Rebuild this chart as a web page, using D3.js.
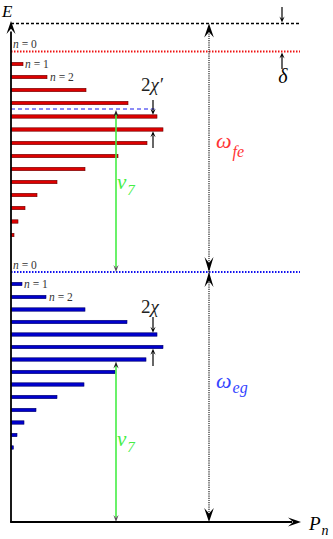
<!DOCTYPE html>
<html><head><meta charset="utf-8">
<script src="https://cdn.jsdelivr.net/npm/d3@7"></script>
<style>html,body{margin:0;padding:0;background:#fff;}svg{display:block;}</style>
</head><body>
<script>
// ---- data ----
const levelN = [0,1,2,3,4,5,6,7,8,9,10,11,12,13,14];
const redPn  = [0, 0.012, 0.036, 0.075, 0.117, 0.146, 0.152, 0.136, 0.107, 0.074, 0.046, 0.026, 0.014, 0.007, 0.003];
const bluePn = [0, 0.011, 0.035, 0.074, 0.116, 0.146, 0.152, 0.135, 0.104, 0.073, 0.046, 0.025, 0.013, 0.006, 0.0023];
const redE   = [470.5, 458, 445, 432, 419, 405.5, 392.5, 379, 366, 353, 340, 327, 314, 300.5, 287];
const blueE  = [250, 238, 225, 212.5, 200, 187.5, 175, 162.5, 150, 137.5, 125, 112, 99.5, 87, 74.5];
const topE = 498.5;       // upper dashed level
const dashedE = 413;      // blue dashed (ν7 above e n=0)
const groundE = 0;

const W = 333, H = 539;
const x = d3.scaleLinear().domain([0, 0.289]).range([11, 300]);
const y = d3.scaleLinear().domain([0, 500]).range([522, 22]);

const svg = d3.select("body").append("svg").attr("width", W).attr("height", H);
const serif = "'Liberation Serif','DejaVu Serif',serif";

function arrow(px, py, dir, L, Wd, color) {
  let p;
  if (dir === 'up')   p = `M${px},${py} L${px-Wd},${py+L} L${px},${py+L*0.6} L${px+Wd},${py+L} Z`;
  if (dir === 'down') p = `M${px},${py} L${px-Wd},${py-L} L${px},${py-L*0.6} L${px+Wd},${py-L} Z`;
  if (dir === 'right')p = `M${px},${py} L${px-L},${py-Wd} L${px-L*0.6},${py} L${px-L},${py+Wd} Z`;
  svg.append("path").attr("d", p).attr("fill", color || "#000");
}
function line(x1,y1,x2,y2,stroke,w,dash){
  const l = svg.append("line").attr("x1",x1).attr("y1",y1).attr("x2",x2).attr("y2",y2)
    .attr("stroke",stroke).attr("stroke-width",w);
  if (dash) l.attr("stroke-dasharray",dash);
  return l;
}

// ---- horizontal levels ----
line(x(0), y(topE), x(0.289), y(topE), "#000", 1.4, "3,2");
line(x(0), y(redE[0]), x(0.289), y(redE[0]), "#ee1111", 1.8, "1.5,1.5");
line(x(0), y(blueE[0]), x(0.289), y(blueE[0]), "#1111ee", 1.8, "1.5,1.5");
line(x(0), y(dashedE), x(0.1435), y(dashedE), "#1a1aee", 1.1, "4,3");

// ---- bars ----
const bh = 3.4;
svg.append("g").selectAll("rect").data(levelN.slice(1)).join("rect")
  .attr("x", x(0)).attr("y", n => y(redE[n]) - bh/2)
  .attr("width", n => x(redPn[n]) - x(0)).attr("height", bh)
  .attr("fill", "#dd0000").attr("stroke", "#6a0000").attr("stroke-width", 0.6);
svg.append("g").selectAll("rect").data(levelN.slice(1)).join("rect")
  .attr("x", x(0)).attr("y", n => y(blueE[n]) - bh/2)
  .attr("width", n => x(bluePn[n]) - x(0)).attr("height", bh)
  .attr("fill", "#0000cc").attr("stroke", "#000066").attr("stroke-width", 0.6);

// ---- n labels ----
function nLabel(px, py, k) {
  const t = svg.append("text").attr("x", px).attr("y", py).attr("font-family", serif)
    .attr("font-size", 11.5).attr("fill", "#333");
  t.append("tspan").attr("font-style","italic").text("n");
  t.append("tspan").text(" = " + k);
}
nLabel(13, y(redE[0]) - 3.5, levelN[0]);
nLabel(x(redPn[1]) + 2, y(redE[1]) + 3.5, levelN[1]);
nLabel(x(redPn[2]) + 3, y(redE[2]) + 3.5, levelN[2]);
nLabel(13, y(blueE[0]) - 3.5, levelN[0]);
nLabel(x(bluePn[1]) + 2, y(blueE[1]) + 3.5, levelN[1]);
nLabel(x(bluePn[2]) + 3, y(blueE[2]) + 3.5, levelN[2]);

// ---- vertical dotted ω line ----
const xw = 209;
line(xw, y(topE)+10, xw, y(groundE)-10, "#333", 1.3, "1.2,1");
arrow(xw, y(topE), 'up', 14, 4.8);
arrow(xw, y(blueE[0]), 'down', 15, 4.5);
arrow(xw, y(blueE[0]), 'up', 15, 4.5);
arrow(xw, y(groundE), 'down', 14, 4.8);

// ---- green ν7 arrows ----
const xg = 116;
line(xg, y(blueE[0]) - 5, xg, y(dashedE) + 5, "#44ee44", 1.6);
arrow(xg, y(dashedE) + 1, 'up', 7, 2.6, "#222");
arrow(xg, y(blueE[0]), 'down', 7, 2.6, "#555");
line(xg, y(groundE) - 5, xg, y(blueE[7]) + 5, "#44ee44", 1.6);
arrow(xg, y(blueE[7]) + 2, 'up', 7, 2.6, "#222");
arrow(xg, y(groundE), 'down', 7, 2.6, "#555");

function subLabel(px, py, main, sub, color, ms, ss, dy) {
  const t = svg.append("text").attr("x", px).attr("y", py).attr("font-family", serif)
    .attr("font-style","italic").attr("fill", color).attr("font-size", ms);
  t.append("tspan").text(main);
  t.append("tspan").attr("font-size", ss).attr("dy", dy).attr("dx", 1).text(sub);
}
subLabel(117, 189, "ν", "7", "#44ee44", 21, 15, 6);
subLabel(117, 446, "ν", "7", "#44ee44", 21, 15, 6);
subLabel(216, 148, "ω", "fe", "#ff3333", 22, 16, 9);
subLabel(216, 388, "ω", "eg", "#3344ff", 22, 16, 5);

// ---- δ ----
const xd = 282;
line(xd, 7, xd, y(topE) - 4, "#000", 1.2);
arrow(xd, y(topE) - 1, 'down', 6, 2.6);
line(xd, 69, xd, y(redE[0]) + 4, "#000", 1.2);
arrow(xd, y(redE[0]) + 1, 'up', 6, 2.6);
svg.append("text").attr("x", xd + 1).attr("y", 83).attr("text-anchor","middle")
  .attr("font-family", serif).attr("font-style","italic").attr("font-size", 20).text("δ");

// ---- 2χ' and 2χ ----
const xc = 153;
line(xc, 100, xc, y(redE[5]) - bh/2 - 4, "#000", 1.2);
arrow(xc, y(redE[5]) - bh/2, 'down', 6, 2.6);
line(xc, 148, xc, y(redE[6]) + bh/2 + 4, "#000", 1.2);
arrow(xc, y(redE[6]) + bh/2, 'up', 6, 2.6);
let t1 = svg.append("text").attr("x", 141).attr("y", 91).attr("font-family", serif).attr("font-size", 19).attr("fill","#222");
t1.append("tspan").text("2");
t1.append("tspan").attr("font-style","italic").text("χ′");

line(xc, 317, xc, y(blueE[5]) - bh/2 - 4, "#000", 1.2);
arrow(xc, y(blueE[5]) - bh/2, 'down', 6, 2.6);
line(xc, 366, xc, y(blueE[6]) + bh/2 + 4, "#000", 1.2);
arrow(xc, y(blueE[6]) + bh/2, 'up', 6, 2.6);
let t2 = svg.append("text").attr("x", 141).attr("y", 313).attr("font-family", serif).attr("font-size", 19).attr("fill","#222");
t2.append("tspan").text("2");
t2.append("tspan").attr("font-style","italic").text("χ");

// ---- axes ----
line(x(0), y(groundE), x(0), y(topE) + 8, "#000", 1.8);
arrow(x(0), 21, 'up', 13, 4.5);
line(x(0) - 0.9, y(groundE), 292, y(groundE), "#000", 1.8);
arrow(301, y(groundE), 'right', 13, 4.5);
svg.append("text").attr("x", 2).attr("y", 17).attr("font-family", serif).attr("font-style","italic")
  .attr("font-size", 17).text("E");
subLabel(309, 530, "P", "n", "#000", 19, 14, 5);
</script>
</body></html>
